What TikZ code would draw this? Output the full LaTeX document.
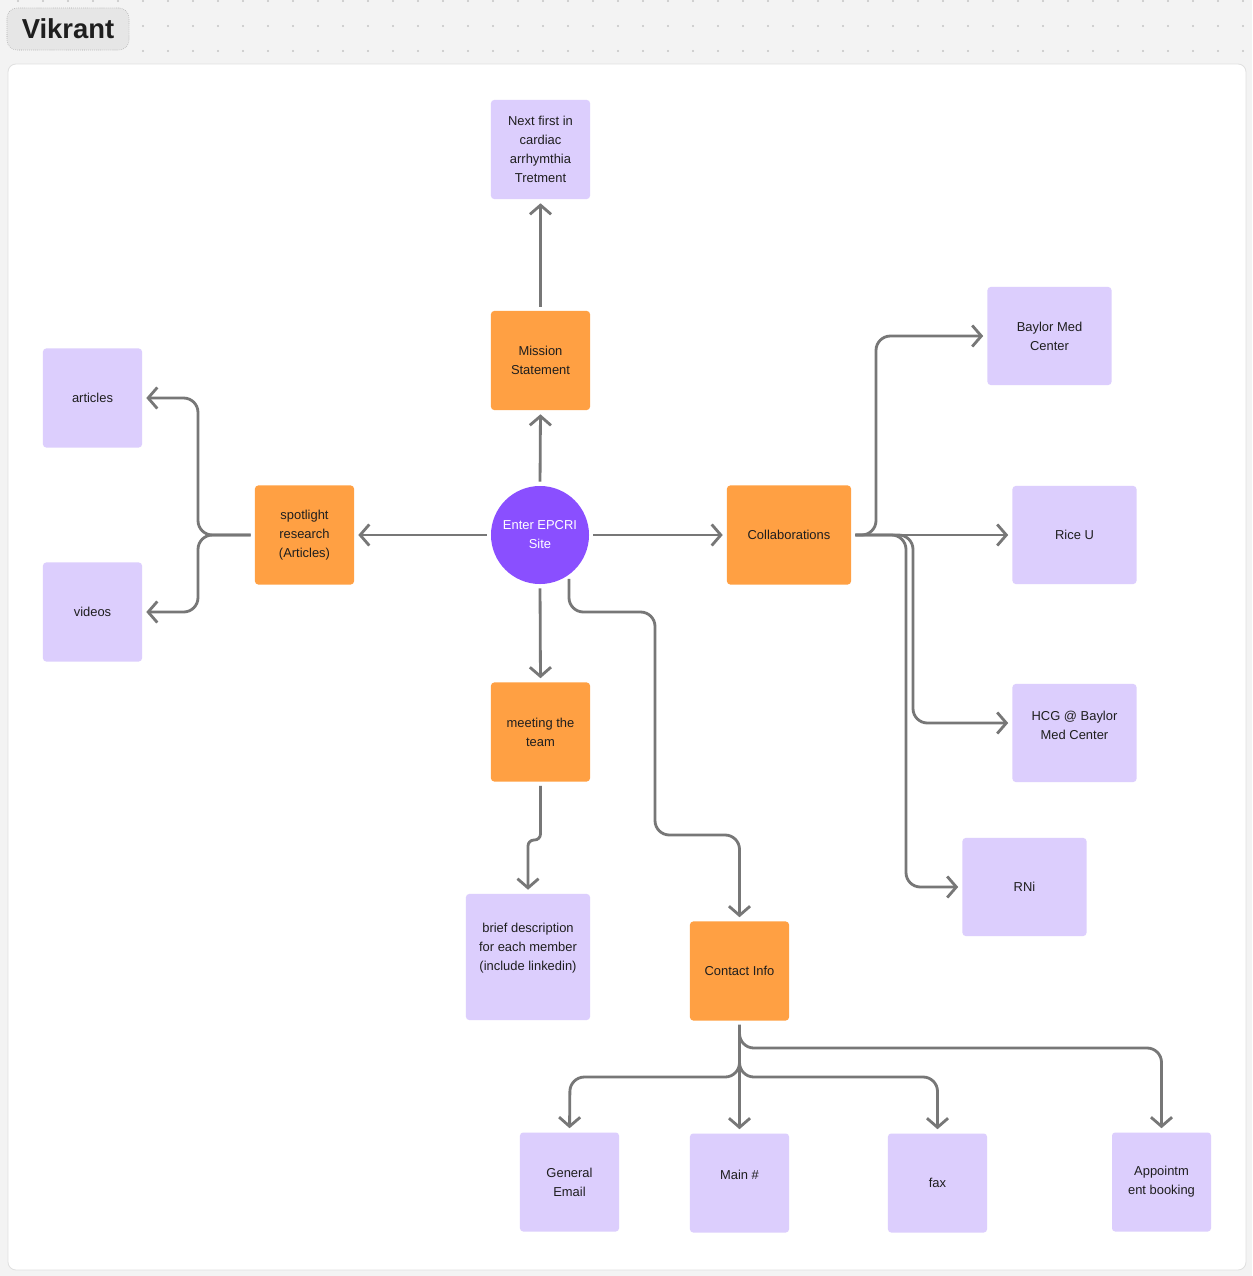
\documentclass[tikz,border=0pt]{standalone}
\usepackage{fontspec}
\setmainfont{Liberation Sans}
\usetikzlibrary{arrows.meta}
\definecolor{bgc}{HTML}{F3F3F3}
\definecolor{dotc}{HTML}{C4C4C4}
\definecolor{lav}{HTML}{DCCEFD}
\definecolor{org}{HTML}{FFA043}
\definecolor{vio}{HTML}{8A4FFF}
\definecolor{lnc}{HTML}{777777}
\definecolor{txt}{HTML}{1E1E1E}
\definecolor{panelb}{HTML}{E0E0E0}
\definecolor{titlef}{HTML}{E6E6E6}
\tikzset{
  box/.style={rounded corners=0.08cm, inner sep=0pt, align=center, text=txt,
    font=\fontsize{9.2}{13.5}\selectfont},
  pbox/.style={box, fill=lav},
  obox/.style={box, fill=org},
  sq/.style={minimum width=2.475cm, minimum height=2.475cm},
  wide/.style={minimum width=3.1cm, minimum height=2.45cm},
  conn/.style={draw=lnc, line width=2pt, rounded corners=0.36cm,
    -{Straight Barb[length=6.5pt,width=15pt]},
    shorten <=0.1cm, shorten >=0.1cm},
}
\begin{document}
\begin{tikzpicture}[x=0.025cm,y=-0.025cm]
\fill[bgc] (0,0) rectangle (1252,1276);
\useasboundingbox (0,0) rectangle (1252,1276);
\foreach \x in {18,43,...,1243} \fill[dotc] (\x,1) circle (0.028cm);
\foreach \x in {143,168,...,1243} {\fill[dotc] (\x,26) circle (0.028cm); \fill[dotc] (\x,51) circle (0.028cm);}
\draw[fill=white, draw=panelb, line width=0.6pt, rounded corners=0.2cm] (8,64) rectangle (1246,1270);
\node[fill=titlef, draw=black!35, densely dotted, line width=0.4pt, rounded corners=0.25cm,
  minimum width=3.05cm, minimum height=1.05cm, text=txt,
  font=\fontsize{19.5}{22}\selectfont\bfseries] (title) at (68,29) {Vikrant};

% nodes
\node[pbox, sq] (nxt) at (540.5,149.5) {Next first in\\cardiac\\arrhymthia\\Tretment};
\node[obox, sq] (mis) at (540.5,360.5) {Mission\\Statement};
\node[circle, fill=vio, minimum size=2.45cm, inner sep=0pt, align=center, text=white,
  font=\fontsize{9.2}{13.5}\selectfont] (circ) at (540,535) {Enter EPCRI\\Site};
\node[obox, minimum width=3.1cm, minimum height=2.475cm] (col) at (789,535) {Collaborations};
\node[obox, sq] (spot) at (304.5,535) {spotlight\\research\\(Articles)};
\node[pbox, sq] (art) at (92.5,398) {articles};
\node[pbox, sq] (vid) at (92.5,612) {videos};
\node[obox, sq] (meet) at (540.5,732) {meeting the\\team};
\node[pbox, minimum width=3.1cm, minimum height=3.15cm] (brief) at (528,957) {};
\node[box] (brieft) at (528,948) {brief description\\for each member\\(include linkedin)};
\node[obox, sq] (con) at (739.5,971) {Contact Info};
\node[pbox, wide] (bay) at (1049.5,336) {Baylor Med\\Center};
\node[pbox, wide] (rice) at (1074.5,535) {Rice U};
\node[pbox, wide] (hcg) at (1074.5,733) {};
\node[box] (hcgt) at (1074.5,725) {HCG @ Baylor\\Med Center};
\node[pbox, wide] (rni) at (1024.5,887) {RNi};
\node[pbox, sq] (gen) at (569.5,1182) {General\\Email};
\node[pbox, sq] (main) at (739.5,1183) {};
\node[box] (maint) at (739.5,1175) {Main \#};
\node[pbox, sq] (fax) at (937.5,1183) {fax};
\node[pbox, sq] (app) at (1161.5,1182) {Appointm\\ent booking};

% connectors
\draw[conn] (circ.north) -- (mis.south);
\draw[conn] (mis.north) -- (nxt.south);
\draw[conn] (circ.west) -- (spot.east);
\draw[conn] (circ.east) -- (col.west);
\draw[conn] (circ.south) -- (meet.north);
\draw[conn] (circ.-54) |- (655,612) |- (739.5,835) -- (con.north);
\draw[conn, rounded corners=0.15cm] (meet.south) |- (528,840) -- (brief.north);
\draw[conn] (spot.west) -| (198,398) -- (art.east);
\draw[conn] (spot.west) -| (198,612) -- (vid.east);
\draw[conn] (col.east) -| (876,336) -- (bay.west);
\draw[conn] (col.east) -- (rice.west);
\draw[conn] (col.east) -| (913,723) -- ([yshift=0.25cm]hcg.west);
\draw[conn] (col.east) -| (906,887) -- (rni.west);
\draw[conn] (con.south) |- (570,1077) -- (gen.north);
\draw[conn] (con.south) -- (main.north);
\draw[conn] (con.south) |- (937.5,1077) -- (fax.north);
\draw[conn] (con.south) |- (1161.5,1048) -- (app.north);
\end{tikzpicture}
\end{document}
